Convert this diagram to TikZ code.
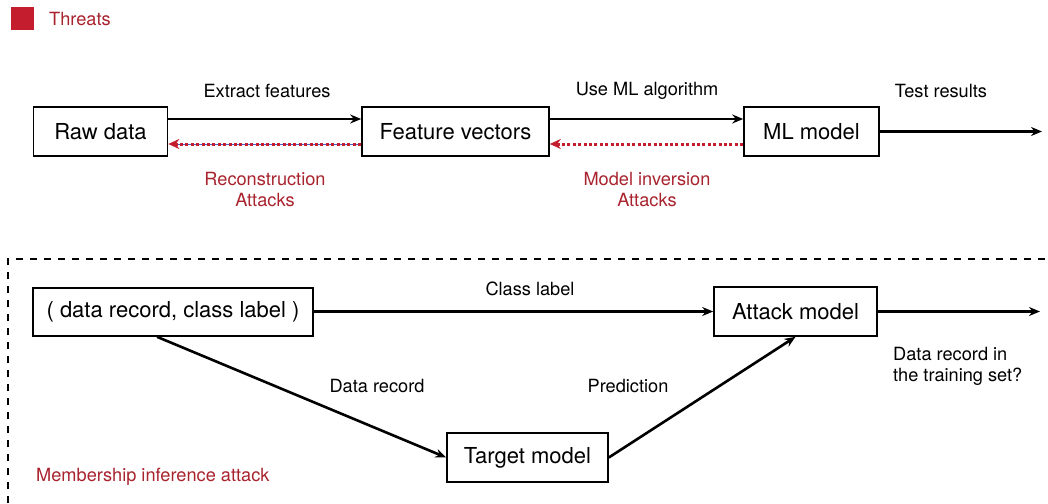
\documentclass[tikz,border=0pt]{standalone}
\usepackage{fontspec}
\setmainfont{TeX Gyre Heros}
\usetikzlibrary{arrows.meta}
\definecolor{threat}{HTML}{C41E2E}
\definecolor{threattext}{HTML}{A8232E}
\definecolor{tracer}{HTML}{4A5FC8}
\tikzset{
  box/.style={draw=black, line width=1.6pt, fill=white, inner sep=0pt, font=\fontsize{22}{26}\selectfont},
  flow/.style={line width=2.6pt, -{Stealth[length=11pt,width=9pt]}},
  attack/.style={threat, line width=3pt, dash pattern=on 3pt off 2.4pt, -{Stealth[length=11pt,width=10pt,fill=threat]}},
  lbl/.style={font=\fontsize{18.2}{21}\selectfont, align=center, inner sep=0pt},
  redlbl/.style={lbl, text=threattext},
}
\begin{document}
\begin{tikzpicture}[x=1pt,y=-1pt]
\useasboundingbox (0,0) rectangle (1048,503);

% legend
\fill[threat] (11,7) rectangle (34,30);
\node[redlbl, anchor=west] (legend) at (49,19) {Threats};

% pipeline
\node[box, minimum width=134pt, minimum height=49pt] (raw) at (100.5,131.5) {Raw data};
\node[box, minimum width=187pt, minimum height=49pt] (feat) at (455.5,131.5) {Feature vectors};
\node[box, minimum width=135pt, minimum height=49pt] (ml) at (811.5,131.5) {ML model};
\coordinate (testout) at (1042,131.5);

\draw[flow] (raw.east |- 0,119) -- (feat.west |- 0,119);
\draw[flow] (feat.east |- 0,119) -- (ml.west |- 0,119);
\draw[flow] (ml.east) -- (testout);

\draw[tracer, line width=0.8pt] (feat.west |- 0,144) -- ([xshift=8pt]raw.east |- 0,144);
\draw[attack] (feat.west |- 0,144) -- (raw.east |- 0,144);
\draw[attack] (ml.west |- 0,144) -- (feat.east |- 0,144);

\node[lbl] (l1) at (267,91) {Extract features};
\node[lbl] (l2) at (647,91) {Use ML algorithm};
\node[lbl] (l3) at (941,91) {Test results};
\node[redlbl] (r1) at (265,189.5) {Reconstruction\\[0pt]Attacks};
\node[redlbl] (r2) at (647,189.5) {Model inversion\\[0pt]Attacks};

% membership inference
\coordinate (fr1) at (8,503);
\coordinate (fr2) at (8,259);
\coordinate (fr3) at (1048,259);
\draw[line width=1.6pt, dash pattern=on 7pt off 7pt] (fr1) -- (fr2) -- (fr3);

\node[box, minimum width=280pt, minimum height=48pt] (rec) at (173,312) {( data record, class label )};
\node[box, minimum width=163pt, minimum height=49pt] (atk) at (795.5,311.5) {Attack model};
\node[box, minimum width=161pt, minimum height=49pt] (tgt) at (527.5,457.5) {Target model};
\coordinate (mout) at (1040,311.5);

\draw[flow] (rec.east |- 0,311.5) -- (atk.west);
\draw[flow] (rec.south -| 157,0) -- (tgt.west);
\draw[flow] (tgt.east) -- (atk.south);
\draw[flow] (atk.east) -- (mout);

\node[lbl] (m1) at (530,289) {Class label};
\node[lbl] (m2) at (377,386) {Data record};
\node[lbl] (m3) at (628,386) {Prediction};
\node[lbl, align=left, anchor=west] (m4) at (893,366.5) {Data record in\\[0pt]the training set?};
\node[redlbl, anchor=west] (m5) at (36,477) {Membership inference attack};
\end{tikzpicture}
\end{document}
